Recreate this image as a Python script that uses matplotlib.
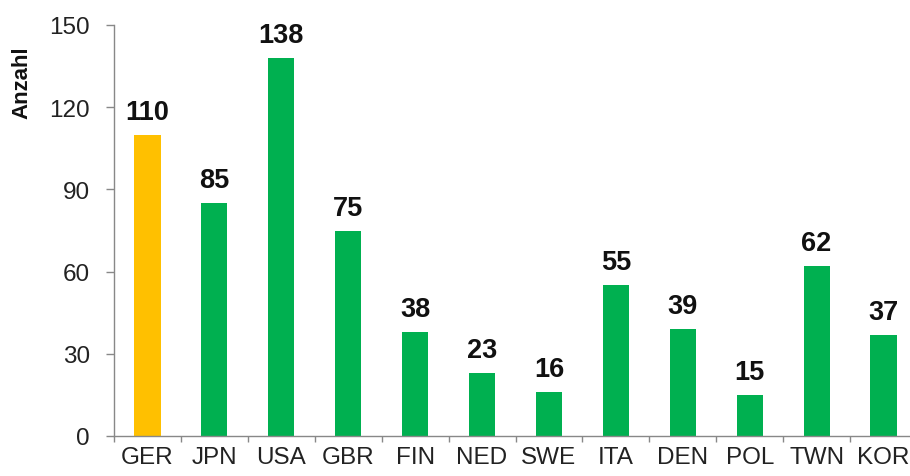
import matplotlib
matplotlib.use("Agg")
import matplotlib.pyplot as plt
import numpy as np

categories = ["GER", "JPN", "USA", "GBR", "FIN", "NED", "SWE", "ITA", "DEN", "POL", "TWN", "KOR"]
values = [110, 85, 138, 75, 38, 23, 16, 55, 39, 15, 62, 37]
yticks = [0, 30, 60, 90, 120, 150]

plt.rcParams['font.family'] = ['Liberation Sans', 'DejaVu Sans']

fig = plt.figure(figsize=(9.10, 4.77), dpi=100)
ax = fig.add_axes([114/910, 40/477, 803/910, 411/477])

colors = ["#FFC000"] + ["#00B050"] * (len(categories) - 1)
x = np.arange(len(categories))
ax.bar(x, values, width=0.39, color=colors, zorder=2)

for xi, v in zip(x, values):
    ax.annotate(str(v), xy=(xi, v), xytext=(0, 11.5), textcoords='offset points',
                ha='center', va='baseline', fontsize=19.5, fontweight='bold', color='#111111')

ax.set_xlim(-0.5, len(categories) - 0.5)
ax.set_ylim(0, 150)
ax.set_yticks(yticks)
ax.set_yticklabels([str(t) for t in yticks], fontsize=17.5, color='#222222')

ax.set_xticks(x)
ax.set_xticklabels(categories, fontsize=17.5, color='#222222')
ax.tick_params(axis='x', which='major', length=0, pad=7)
ax.set_xticks(np.arange(-0.5, len(categories), 1), minor=True)
ax.tick_params(axis='x', which='minor', length=4.3, width=1, color='#888888', direction='out')
ax.tick_params(axis='y', length=5.8, width=1, color='#888888', direction='out', pad=11.5)

for s in ['top', 'right']:
    ax.spines[s].set_visible(False)
for s in ['left', 'bottom']:
    ax.spines[s].set_color('#888888')
    ax.spines[s].set_linewidth(1)

ax.set_ylabel("Anzahl", fontsize=16, fontweight='bold', color='#111111')
ax.yaxis.set_label_coords(-0.1146, 0.861)
ax.yaxis.label.set_va('center')

fig.savefig("out.png", dpi=100)
